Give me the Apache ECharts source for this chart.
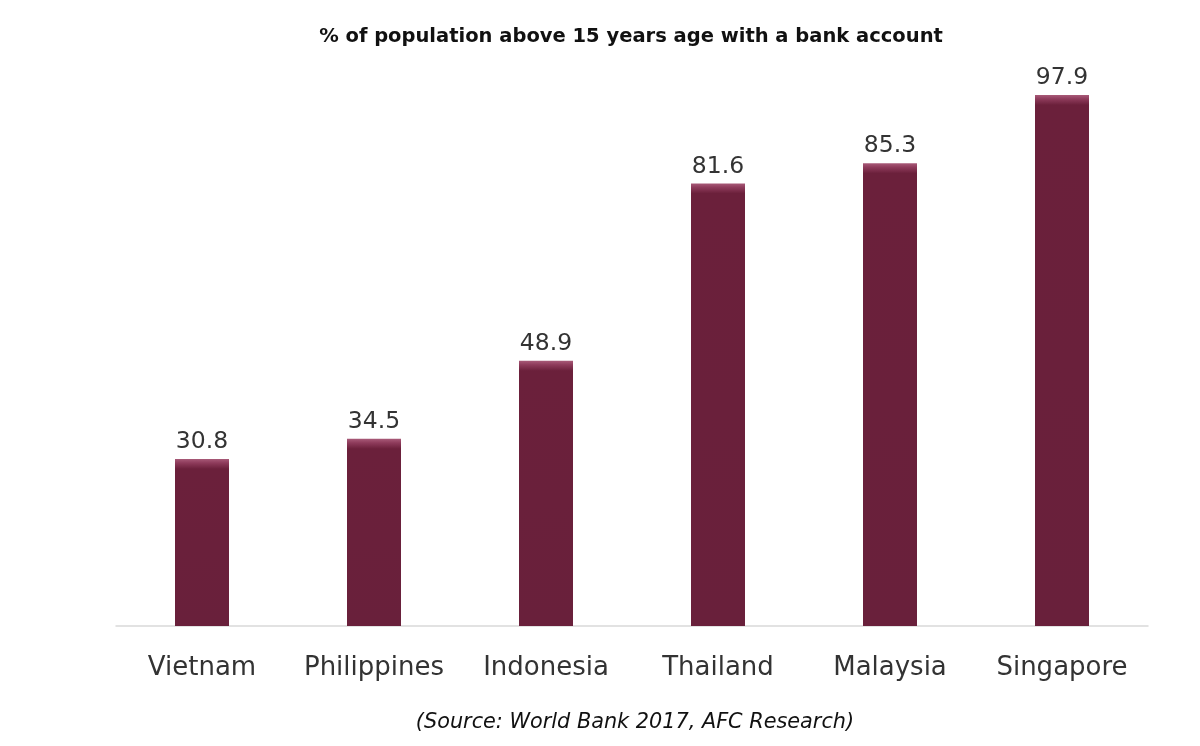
<!DOCTYPE html>
<html><head><meta charset="utf-8">
<script src="https://cdn.jsdelivr.net/npm/echarts@6/dist/echarts.min.js"></script>
<style>html,body{margin:0;padding:0;background:#fff}#c{width:1200px;height:746px}</style>
</head><body><div id="c"></div>
<script>
const categories = ['Vietnam','Philippines','Indonesia','Thailand','Malaysia','Singapore'];
const values = [30.8, 34.5, 48.9, 81.6, 85.3, 97.9];
const titleText = '% of population above 15 years age with a bank account';
const sourceText = '(Source: World Bank 2017, AFC Research)';

const chart = echarts.init(document.getElementById('c'));
const pxPerUnit = (626 - 83.6) / 100;
const barData = values.map(v => {
  const h = v * pxPerUnit;
  const s = Math.min(0.5, 10 / h);
  return {
    value: v,
    itemStyle: {
      color: {
        type: 'linear', x: 0, y: 0, x2: 0, y2: 1,
        colorStops: [
          {offset: 0, color: '#a85a78'},
          {offset: s * 0.4, color: '#8e3b5b'},
          {offset: s, color: '#6b203b'},
          {offset: 1, color: '#69203b'}
        ]
      }
    }
  };
});
chart.setOption({
  animation: false,
  title: [
    {text: titleText, left: 626, textAlign: 'center', top: 22,
     textStyle: {fontFamily: 'DejaVu Sans', fontWeight: 'bold', fontSize: 19.5, color: '#111'}},
    {text: sourceText, left: 630, textAlign: 'center', top: 707,
     textStyle: {fontFamily: 'DejaVu Sans', fontStyle: 'italic', fontWeight: 'normal', fontSize: 20.8, color: '#111'}}
  ],
  grid: {left: 116, right: 52, top: 83.6, bottom: 120},
  xAxis: {
    type: 'category', data: categories,
    axisLine: {lineStyle: {color: '#d9d9d9', width: 1.5}},
    axisTick: {show: false},
    axisLabel: {interval: 0, fontFamily: 'DejaVu Sans', fontSize: 26, color: '#333', margin: 29}
  },
  yAxis: {type: 'value', min: 0, max: 100, show: false, splitLine: {show: false}},
  series: [{
    type: 'bar', data: barData, barWidth: 54,
    label: {show: true, position: 'top', distance: 5, fontFamily: 'DejaVu Sans', fontSize: 23.5, color: '#333',
            formatter: p => p.value.toFixed(1)}
  }]
});
</script></body></html>
